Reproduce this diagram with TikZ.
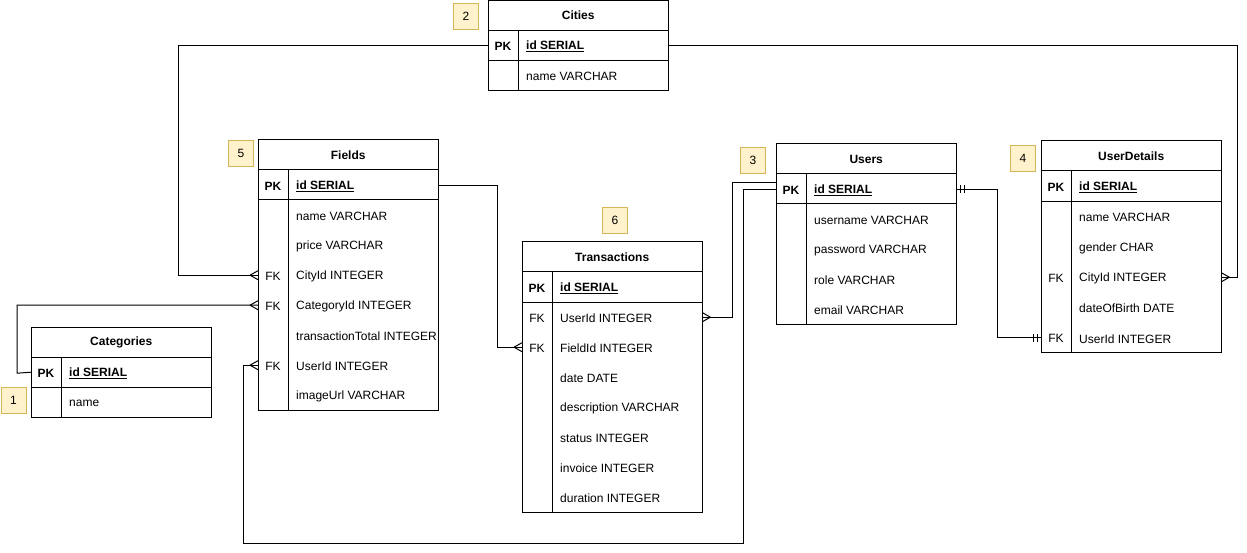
\documentclass[tikz,border=0pt]{standalone}
\usepackage{fontspec}
\setmainfont{Liberation Sans}
\definecolor{tagfill}{HTML}{FFF2CC}
\definecolor{tagline}{HTML}{D6B656}
\tikzset{
 bodyfont/.style={font=\fontsize{12}{14}\selectfont},
 boldfont/.style={font=\fontsize{12}{14}\selectfont\bfseries},
 base/.style={line width=1pt},
 hdr/.style={anchor=north west, minimum width=180pt, minimum height=30pt, inner sep=0pt, boldfont},
 rowbox/.style={anchor=north west, minimum width=180pt, inner sep=0pt},
 keytxt/.style={inner sep=0pt, yshift=-1pt, bodyfont},
 fldtxt/.style={anchor=west, inner sep=0pt, yshift=-1pt, bodyfont},
 tag/.style={draw=tagline, fill=tagfill, line width=1pt, minimum width=25pt, minimum height=26pt, inner sep=0pt, anchor=north west, bodyfont},
 conn/.style={line width=1pt},
 crowfoot/.pic={\draw[conn] (-8,0) -- (0,-4.5) (-8,0) -- (0,4.5);},
 onebar/.pic={\draw[conn] (-4,-4) -- (-4,4) (-8,-4) -- (-8,4);}
}
% #1 name #2 x #3 y #4 title #5 pk text #6 row height #7 total rows #8 other rows
\newcommand\ertable[8]{%
 \node[hdr] (#1) at (#2,#3) {#4};
 \node[rowbox, minimum height=#6pt] (#1-1) at (#2,{#3+30}) {};
 \node[keytxt, boldfont] at ([xshift=15pt]#1-1.west) {PK};
 \node[fldtxt, boldfont] at ([xshift=38pt]#1-1.west) {\underline{#5}};
 \foreach \k/\t [count=\i from 2] in {#8} {
   \node[rowbox, minimum height=#6pt] (#1-\i) at (#2,{#3+30+(\i-1)*#6}) {};
   \node[keytxt] at ([xshift=15pt]#1-\i.west) {\k};
   \node[fldtxt] at ([xshift=38pt]#1-\i.west) {\t};
 }
 \draw[base] (#2,#3) rectangle ({#2+180},{#3+30+#7*#6});
 \draw[base] (#2,{#3+30}) -- ++(180,0);
 \draw[base] (#2,{#3+30+#6}) -- ++(180,0);
 \draw[base] ({#2+30},{#3+30}) -- ({#2+30},{#3+30+#7*#6});
}
\begin{document}
\begin{tikzpicture}[x=1pt,y=-1pt]
\useasboundingbox (0,0) rectangle (1247,553);

\ertable{cities}{488}{0.5}{Cities}{id SERIAL}{30}{2}{/name VARCHAR}
\ertable{fields}{258}{140}{Fields}{id SERIAL}{30}{8}{/name VARCHAR, /price VARCHAR, FK/CityId INTEGER, FK/CategoryId INTEGER, /transactionTotal INTEGER, FK/UserId INTEGER, /imageUrl VARCHAR}
\ertable{categories}{31}{327}{Categories}{id SERIAL}{30}{2}{/name}
\ertable{transactions}{522}{242}{Transactions}{id SERIAL}{30}{8}{FK/UserId INTEGER, FK/FieldId INTEGER, /date DATE, /description VARCHAR, /status INTEGER, /invoice INTEGER, /duration INTEGER}
\ertable{users}{776}{144}{Users}{id SERIAL}{30}{5}{/username VARCHAR, /password VARCHAR, /role VARCHAR, /email VARCHAR}
\ertable{userdetails}{1041}{141}{UserDetails}{id SERIAL}{30.3}{6}{/name VARCHAR, /gender CHAR, FK/CityId INTEGER, /dateOfBirth DATE, FK/UserId INTEGER}

\node[tag] (tag1) at (0.5,387) {1};
\node[tag] (tag2) at (453,3) {2};
\node[tag] (tag3) at (740,147) {3};
\node[tag] (tag4) at (1010,145) {4};
\node[tag] (tag5) at (228,140) {5};
\node[tag] (tag6) at (602,207) {6};

\draw[conn] (cities-1.west) -| ([xshift=-80pt]fields-4.west) -- (fields-4.west);
\pic at (fields-4.west) {crowfoot};
\draw[conn] (cities-1.east) -| ([xshift=16pt]userdetails-4.east) -- (userdetails-4.east);
\pic[xscale=-1] at (userdetails-4.east) {crowfoot};
\draw[conn] (categories-1.west) -- ++(-14,1) |- (fields-5.west);
\pic at (fields-5.west) {crowfoot};
\draw[conn] (fields-1.east) -| ([xshift=-25pt]transactions-3.west) -- (transactions-3.west);
\pic at (transactions-3.west) {crowfoot};
\draw[conn] ([yshift=7pt]users-1.west) -| ([xshift=30pt]transactions-2.east) -- (transactions-2.east);
\pic[xscale=-1] at (transactions-2.east) {crowfoot};
\draw[conn] (users-1.west) -- ++(-33,0) -- ++(0,354) -| ([xshift=-15pt]fields-7.west) -- (fields-7.west);
\pic at (fields-7.west) {crowfoot};
\draw[conn] (users-1.east) -| ([xshift=-44pt]userdetails-6.west) -- (userdetails-6.west);
\pic[xscale=-1] at (users-1.east) {onebar};
\pic at (userdetails-6.west) {onebar};
\end{tikzpicture}
\end{document}
